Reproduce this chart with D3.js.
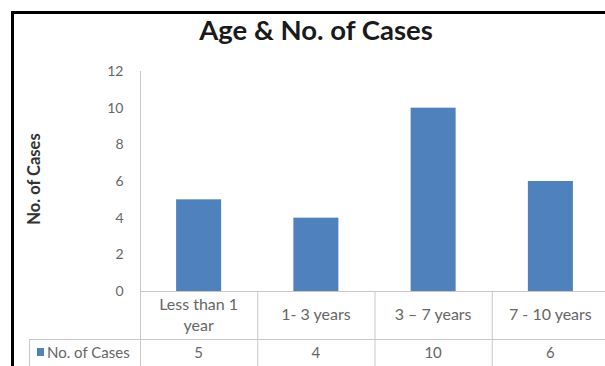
<!DOCTYPE html>
<html><head><meta charset="utf-8">
<script src="https://cdn.jsdelivr.net/npm/d3@7"></script>
<style>html,body{margin:0;background:#fff;overflow:hidden}svg{display:block}</style>
</head><body>
<script>
const categories = [["Less than 1","year"],["1- 3 years"],["3 – 7 years"],["7 - 10 years"]];
const values = [5, 4, 10, 6];
const yTicks = [0, 2, 4, 6, 8, 10, 12];
const seriesName = "No. of Cases";
const title = "Age & No. of Cases";
const yTitle = "No. of Cases";

const W = 605, H = 366;
const svg = d3.select("body").append("svg").attr("width", W).attr("height", H);
const font = "Lato, 'Liberation Sans', Arial, sans-serif";
const gray = "#666666", lineC = "#c8c8c8", barC = "#4F81BD";

const x = d3.scaleBand().domain(d3.range(categories.length)).range([140, 609])
  .paddingInner(0.616).paddingOuter(0.308);
const xCell = d3.scaleBand().domain(d3.range(categories.length)).range([140, 609]);
const y = d3.scaleLinear().domain([0, 12]).range([291, 71]);

svg.append("rect").attr("width", W).attr("height", H).attr("fill", "#fff");

// frame: only top and left edges are inside the picture
svg.append("line").attr("x1", 11).attr("x2", W).attr("y1", 12.5).attr("y2", 12.5)
  .attr("stroke", "#000").attr("stroke-width", 3);
svg.append("line").attr("x1", 12.5).attr("x2", 12.5).attr("y1", 11).attr("y2", H)
  .attr("stroke", "#000").attr("stroke-width", 3);

// title
svg.append("text").attr("x", 316).attr("y", 40).attr("text-anchor", "middle")
  .attr("font-family", font).attr("font-weight", "bold").attr("font-size", 27.5)
  .attr("fill", "#1a1a1a").text(title);

// y axis title
svg.append("text").attr("transform", "translate(40,179) rotate(-90)").attr("text-anchor", "middle")
  .attr("font-family", font).attr("font-weight", "bold").attr("font-size", 16.5)
  .attr("fill", "#333").text(yTitle);

// y axis
const yAxis = d3.axisLeft(y).tickValues(yTicks).tickSize(0).tickPadding(17);
const ga = svg.append("g").attr("transform", "translate(140.5,0)").call(yAxis);
ga.select(".domain").attr("stroke", lineC).attr("d", `M0,${y(12)}V${H}`);
ga.selectAll("text").attr("font-family", font).attr("font-size", 14).attr("fill", gray);

// bars
svg.selectAll("rect.bar").data(values).join("rect").attr("class", "bar")
  .attr("x", (d, i) => x(i)).attr("width", x.bandwidth())
  .attr("y", d => y(d)).attr("height", d => y(0) - y(d)).attr("fill", barC);

// data table lines
const tl = svg.append("g").attr("stroke", lineC).attr("stroke-width", 1);
tl.append("line").attr("x1", 140).attr("x2", W).attr("y1", 291.5).attr("y2", 291.5);
tl.append("line").attr("x1", 29).attr("x2", W).attr("y1", 339.5).attr("y2", 339.5);
tl.append("line").attr("x1", 29.5).attr("x2", 29.5).attr("y1", 339).attr("y2", H);
categories.forEach((c, i) => {
  if (i > 0) tl.append("line").attr("x1", xCell(i) + 0.5).attr("x2", xCell(i) + 0.5).attr("y1", 291).attr("y2", H);
});

// category labels
categories.forEach((c, i) => {
  const cx = xCell(i) + xCell.bandwidth() / 2;
  const t = svg.append("text").attr("text-anchor", "middle").attr("font-family", font)
    .attr("font-size", 16).attr("fill", gray);
  const y0 = c.length === 2 ? 310 : 320;
  c.forEach((line, k) => t.append("tspan").attr("x", cx).attr("y", y0 + k * 21).text(line));
  svg.append("text").attr("x", cx).attr("y", 358).attr("text-anchor", "middle")
    .attr("font-family", font).attr("font-size", 15).attr("fill", gray).text(values[i]);
});

// legend key in table
svg.append("rect").attr("x", 37).attr("y", 348).attr("width", 7).attr("height", 8).attr("fill", barC);
svg.append("text").attr("x", 47).attr("y", 358).attr("font-family", font).attr("font-size", 15)
  .attr("fill", gray).text(seriesName);
</script>
</body></html>
